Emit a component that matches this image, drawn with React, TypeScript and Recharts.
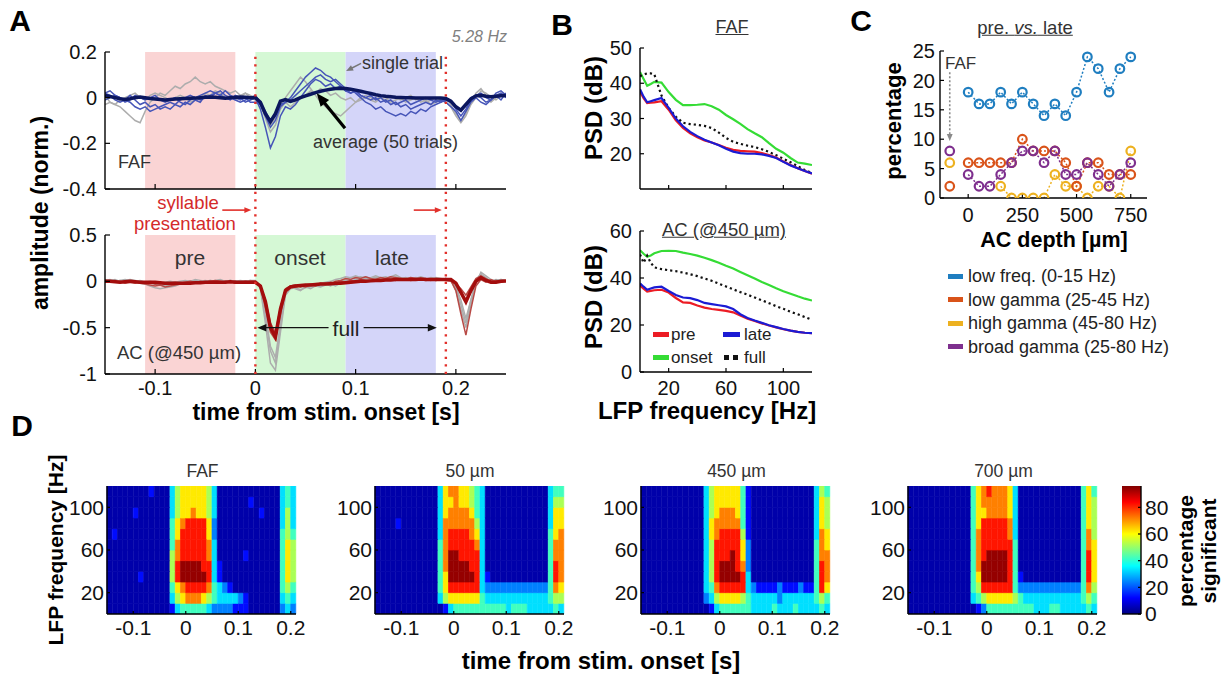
import React from 'react';
import { LineChart, ComposedChart, BarChart, Line, Bar, Cell, XAxis, YAxis, ReferenceArea, ReferenceLine } from 'recharts';

const FONT = '"Liberation Sans", Arial, Helvetica, sans-serif';

// ================= Panel A data =================
const timeA = [
  -0.15, -0.145, -0.14, -0.135, -0.13, -0.125, -0.12, -0.115, -0.11, -0.105,
  -0.1, -0.095, -0.09, -0.085, -0.08, -0.075, -0.07, -0.065, -0.06, -0.055,
  -0.05, -0.045, -0.04, -0.035, -0.03, -0.025, -0.02, -0.015, -0.01, -0.005,
  0, 0.005, 0.01, 0.015, 0.02, 0.025, 0.03, 0.035, 0.04, 0.045,
  0.05, 0.055, 0.06, 0.065, 0.07, 0.075, 0.08, 0.085, 0.09, 0.095,
  0.1, 0.105, 0.11, 0.115, 0.12, 0.125, 0.13, 0.135, 0.14, 0.145,
  0.15, 0.155, 0.16, 0.165, 0.17, 0.175, 0.18, 0.185, 0.19, 0.195,
  0.2, 0.205, 0.21, 0.215, 0.22, 0.225, 0.23, 0.235, 0.24, 0.245,
  0.25,
];
const fafAvg = [
  0.01, 0.005, 0, -0.005, -0.008, -0.005, 0, 0.003, 0, -0.004,
  -0.006, -0.008, -0.01, -0.008, -0.006, -0.005, -0.004, -0.003, -0.002, 0,
  0.002, 0.003, 0.002, 0, -0.002, 0, 0.002, 0.003, 0.002, 0,
  0, -0.02, -0.07, -0.105, -0.07, -0.015, -0.008, -0.016, -0.01, 0,
  0.008, 0.015, 0.022, 0.028, 0.033, 0.037, 0.04, 0.041, 0.04, 0.037,
  0.033, 0.028, 0.023, 0.018, 0.013, 0.009, 0.006, 0.004, 0.002, 0.001,
  0, 0, -0.001, -0.001, -0.002, -0.002, -0.002, -0.002, -0.004, -0.015,
  -0.04, -0.055, -0.03, -0.005, 0.008, 0.01, 0.006, 0.004, 0.006, 0.008,
  0.01,
];
const fafB1 = [
  0.02, 0.01, -0.01, -0.02, -0.01, 0.01, -0.01, -0.03, -0.02, -0.04,
  -0.03, -0.05, -0.04, -0.05, -0.03, -0.04, -0.02, -0.03, -0.01, -0.02,
  0.01, 0, 0.02, 0.01, 0, -0.01, 0.01, 0, -0.02, -0.01,
  0, -0.05, -0.13, -0.22, -0.17, -0.08, -0.04, -0.05, -0.03, 0,
  0.03, 0.06, 0.08, 0.07, 0.05, 0.06, 0.04, 0.05, 0.03, 0.02,
  0.03, 0.01, 0, 0.01, -0.01, 0, -0.02, -0.01, -0.03, -0.02,
  -0.01, -0.03, -0.02, -0.01, 0, -0.01, -0.02, -0.01, -0.02, -0.04,
  -0.06, -0.1, -0.06, -0.02, 0, -0.02, -0.03, -0.01, 0.01, -0.01,
  0.02,
];
const fafB2 = [
  -0.01, 0, 0.01, 0, -0.02, -0.01, 0.01, 0, -0.01, 0,
  0.01, -0.01, -0.02, -0.01, 0, -0.02, -0.03, -0.01, 0, 0.01,
  0.02, 0.03, 0.02, 0.01, 0.03, 0.01, 0, -0.01, 0, -0.02,
  -0.02, -0.03, -0.08, -0.13, -0.1, -0.04, -0.02, 0, 0.03, 0.06,
  0.09, 0.11, 0.13, 0.12, 0.1, 0.09, 0.07, 0.05, 0.03, 0.04,
  0.02, 0, -0.02, -0.03, -0.05, -0.04, -0.06, -0.07, -0.08, -0.07,
  -0.08, -0.06, -0.07, -0.05, -0.06, -0.04, -0.03, -0.02, -0.01, -0.02,
  -0.04, -0.06, -0.03, 0, 0.01, 0, -0.02, -0.01, 0.01, 0.02,
  0,
];
const fafB3 = [
  0.02, 0.03, 0.01, 0, -0.01, -0.02, -0.04, -0.05, -0.04, -0.06,
  -0.05, -0.04, -0.03, -0.02, -0.03, -0.01, 0, 0.01, 0, -0.01,
  0, 0.01, 0.02, 0.03, 0.01, 0, -0.01, -0.02, -0.01, 0,
  0.01, -0.02, -0.06, -0.1, -0.08, -0.03, -0.02, -0.01, 0.01, 0.03,
  0.05, 0.07, 0.09, 0.1, 0.08, 0.07, 0.08, 0.06, 0.04, 0.02,
  0.03, 0.01, 0, -0.01, 0, -0.02, -0.01, -0.03, -0.02, -0.04,
  -0.03, -0.05, -0.04, -0.03, -0.02, -0.03, -0.01, -0.02, 0, -0.02,
  -0.05, -0.08, -0.05, -0.01, 0.01, 0.02, 0, -0.01, 0.02, 0.03,
  0.01,
];
const fafG1 = [
  -0.03, -0.02, -0.03, -0.04, -0.06, -0.08, -0.1, -0.11, -0.06, -0.02,
  0, 0.02, 0.01, 0.03, 0.05, 0.04, 0.06, 0.07, 0.09, 0.07,
  0.06, 0.07, 0.05, 0.04, 0.03, 0.02, 0.03, 0.01, 0.02, 0,
  -0.01, -0.03, -0.08, -0.12, -0.09, -0.03, 0, 0.03, 0.06, 0.09,
  0.07, 0.04, 0.01, -0.02, -0.04, -0.06, -0.07, -0.08, -0.06, -0.04,
  -0.02, 0, 0.01, 0, -0.01, 0.01, 0, -0.02, -0.01, 0,
  -0.02, -0.01, 0, -0.02, -0.01, -0.03, -0.02, -0.01, 0, -0.03,
  -0.07, -0.1, -0.07, -0.02, 0.02, 0.04, 0.01, -0.02, 0, 0.02,
  0.01,
];
const fafG2 = [
  0.01, -0.02, -0.03, -0.01, 0, 0.01, 0.02, 0, -0.01, 0.01,
  0.02, 0.01, 0, -0.01, 0, 0.01, 0, -0.02, -0.01, 0,
  0.02, 0.01, 0.03, 0.02, 0, 0.01, -0.01, 0, 0.02, 0.01,
  0, -0.03, -0.09, -0.15, -0.12, -0.05, -0.02, -0.04, -0.02, 0,
  0.01, 0.03, 0.02, 0.04, 0.03, 0.01, 0.02, 0, -0.01, 0,
  -0.02, -0.01, 0, -0.01, -0.02, 0, -0.01, 0.01, 0, -0.01,
  0, 0.01, -0.01, 0, -0.02, -0.01, 0, -0.01, -0.02, -0.04,
  -0.08, -0.11, -0.08, -0.03, 0, 0.03, 0.02, 0, -0.01, 0.01,
  0.02,
];
const acAvg = [
  0, 0, -0.005, -0.01, -0.005, 0, -0.005, -0.01, -0.01, -0.01,
  -0.01, -0.015, -0.02, -0.02, -0.02, -0.02, -0.02, -0.02, -0.015, -0.015,
  -0.01, -0.01, -0.01, -0.01, -0.01, -0.005, -0.01, -0.01, -0.01, -0.01,
  -0.01, -0.05, -0.22, -0.5, -0.6, -0.3, -0.1, -0.06, -0.05, -0.045,
  -0.04, -0.04, -0.035, -0.03, -0.03, -0.025, -0.02, -0.02, -0.015, -0.01,
  -0.005, 0, 0, 0.005, 0.01, 0.01, 0.015, 0.015, 0.02, 0.02,
  0.02, 0.02, 0.02, 0.025, 0.02, 0.02, 0.02, 0.02, 0.02, 0.02,
  -0.02, -0.12, -0.22, -0.1, 0, 0.04, 0.01, -0.01, -0.01, 0,
  0.005,
];
const acR1 = [
  0.01, 0, -0.01, 0, -0.02, -0.01, 0, -0.02, -0.03, -0.04,
  -0.05, -0.04, -0.06, -0.05, -0.04, -0.03, -0.02, -0.01, -0.02, 0,
  -0.01, 0, -0.01, -0.02, 0, -0.01, 0, -0.02, -0.01, 0,
  0, -0.06, -0.28, -0.55, -0.63, -0.35, -0.12, -0.07, -0.06, -0.05,
  -0.06, -0.04, -0.05, -0.03, -0.02, -0.03, 0, 0.01, 0.03, 0.02,
  0.04, 0.03, 0.05, 0.03, 0.02, 0.04, 0.03, 0.05, 0.04, 0.03,
  0.02, 0.04, 0.03, 0.02, 0.03, 0.01, 0.03, 0.02, 0.03, 0.01,
  -0.1, -0.35, -0.58, -0.3, -0.05, 0.02, -0.01, 0.02, 0, -0.01,
  0.01,
];
const acR2 = [
  -0.01, 0, 0.01, -0.01, 0, -0.01, -0.02, -0.01, -0.02, -0.01,
  -0.03, -0.02, -0.03, -0.02, -0.01, -0.02, -0.01, 0, -0.01, -0.02,
  -0.01, 0, 0.01, 0, -0.01, 0, -0.02, -0.01, 0, -0.01,
  -0.02, -0.04, -0.2, -0.45, -0.55, -0.28, -0.08, -0.05, -0.04, -0.06,
  -0.04, -0.03, -0.04, -0.02, -0.03, -0.01, -0.02, 0, -0.01, 0.01,
  0, 0.02, 0.01, 0, 0.02, 0.01, 0.03, 0.02, 0.01, 0.03,
  0.02, 0.01, 0.02, 0.03, 0.01, 0.02, 0.01, 0.02, 0.01, 0,
  -0.03, -0.08, -0.15, -0.06, 0.03, 0.06, 0.03, 0, 0.01, 0,
  0.01,
];
const acG1 = [
  0.01, 0.02, 0, 0.01, 0.02, 0.01, 0, 0.01, -0.01, 0,
  -0.01, -0.02, -0.01, 0, -0.01, 0, 0.01, 0, 0.02, 0.01,
  0, 0.01, 0, -0.01, 0, 0.01, 0, -0.01, 0, 0.01,
  0, -0.08, -0.45, -0.88, -0.96, -0.55, -0.15, -0.08, -0.07, -0.09,
  -0.07, -0.06, -0.04, -0.05, -0.03, -0.05, -0.02, 0, 0.02, 0.04,
  0.03, 0.05, 0.03, 0.04, 0.06, 0.04, 0.05, 0.03, 0.04, 0.02,
  0.03, 0.04, 0.02, 0.03, 0.02, 0.04, 0.03, 0.02, 0.03, 0.01,
  -0.1, -0.3, -0.5, -0.25, 0.02, 0.08, 0.04, 0, 0.02, 0.01,
  0,
];
const acG2 = [
  0, -0.01, 0, 0.01, 0, -0.01, 0, -0.02, -0.03, -0.05,
  -0.07, -0.08, -0.07, -0.06, -0.05, -0.03, -0.02, -0.01, 0, -0.01,
  0, 0.01, 0, -0.01, 0, 0.01, 0, -0.01, 0, 0,
  0, -0.06, -0.38, -0.75, -0.88, -0.5, -0.12, -0.06, -0.08, -0.1,
  -0.06, -0.08, -0.05, -0.06, -0.04, -0.03, -0.05, -0.02, 0.01, 0,
  0.02, 0.01, 0.03, 0.02, 0.04, 0.03, 0.02, 0.04, 0.05, 0.03,
  0.04, 0.02, 0.03, 0.05, 0.03, 0.02, 0.04, 0.03, 0.02, 0,
  -0.06, -0.2, -0.4, -0.2, -0.02, 0.1, 0.06, 0.02, -0.01, 0.02,
  0.01,
];
const acG3 = [
  0.02, 0.01, 0.02, 0, 0.01, 0.02, 0.01, 0, -0.01, -0.02,
  -0.03, -0.04, -0.05, -0.04, -0.03, -0.02, -0.01, 0, 0.01, 0,
  0.01, 0, 0.01, 0.02, 0, 0.01, 0, 0.01, 0, 0.01,
  0.01, -0.05, -0.35, -0.7, -0.82, -0.45, -0.1, -0.05, -0.04, -0.06,
  -0.05, -0.03, -0.04, -0.02, -0.01, 0, 0.02, 0.03, 0.05, 0.04,
  0.06, 0.04, 0.05, 0.03, 0.04, 0.02, 0.03, 0.05, 0.07, 0.04,
  0.03, 0.02, 0.04, 0.03, 0.02, 0.03, 0.01, 0.02, 0.03, 0.02,
  -0.05, -0.25, -0.45, -0.2, 0, 0.06, 0.02, -0.01, 0.01, 0.02,
  0,
];
const ticksAx = [-0.1, 0, 0.1, 0.2];
const ticksATop = [-0.4, -0.2, 0, 0.2];
const ticksABot = [-1, -0.5, 0, 0.5];
const winPre = [-0.11, -0.02];
const winOnset = [0, 0.09];
const winLate = [0.09, 0.18];
const stimOnsets = [0, 0.19];

// ================= Panel B data =================
const freqB = [0, 2.5, 5, 7.5, 10, 15, 20, 25, 30, 35, 40, 45, 50, 55, 60, 65, 70, 75, 80, 85, 90, 95, 100, 105, 110, 115, 120];
const fafOnsetPSD = [43.2, 41.2, 39.3, 39.8, 40.4, 40.2, 37.5, 35.3, 33.8, 33.8, 33.9, 34.1, 33.5, 32.5, 31, 29.8, 28.5, 27, 25.8, 24.7, 23, 21.4, 20.3, 18.8, 17.5, 17.2, 16.8];
const fafFullPSD = [42, 42.5, 42.8, 42.8, 42.5, 36.5, 33, 30.5, 28.8, 28.4, 28.2, 27.9, 27.3, 26, 24.5, 23.4, 22.8, 22.3, 21.9, 21.3, 20.5, 19.6, 18.6, 17.6, 16.5, 15.4, 14.5];
const fafPrePSD = [37.6, 35.8, 34.4, 34.5, 34.6, 34.9, 32.5, 29.5, 27.3, 25.8, 24.7, 23.8, 23.2, 22.5, 21.7, 21.1, 20.8, 20.7, 20.6, 20.2, 19.6, 18.9, 17.8, 16.8, 15.9, 15.1, 14.3];
const fafLatePSD = [38.3, 36.2, 34.6, 34.9, 35.2, 35.8, 33, 30, 27.8, 26.2, 25, 24, 23.2, 22.4, 21.4, 20.6, 20.2, 20, 20, 19.8, 19.4, 18.8, 17.7, 16.7, 15.9, 15.1, 14.4];
const acOnsetPSD = [51.8, 50.3, 49, 49.6, 50.5, 51.5, 51.6, 51.5, 50.8, 50.2, 49.5, 48.6, 47.6, 46.5, 45.2, 44, 42.6, 41.2, 39.8, 38.3, 37, 35.6, 34.4, 33.3, 32.2, 31.2, 30.4];
const acFullPSD = [50, 46.5, 49.5, 46.5, 44.5, 43.8, 43.3, 42.9, 42.3, 41.6, 40.8, 39.8, 38.8, 37.6, 36.4, 35.2, 34, 32.9, 31.7, 30.5, 29.3, 28, 26.9, 25.6, 24.6, 23.4, 22.2];
const acPrePSD = [36.8, 35.5, 34.2, 34.5, 34.8, 35, 33.8, 31.5, 29.6, 29.4, 28.3, 27.4, 26.8, 26.4, 26, 25.4, 24, 22.7, 21.7, 20.7, 19.8, 19, 18.2, 17.6, 17.1, 16.7, 16.5];
const acLatePSD = [37.7, 36.3, 35, 35.5, 36, 36.3, 34.5, 32.8, 31.7, 31.4, 30.6, 29.4, 28.9, 28.4, 27.9, 26.8, 24.6, 23, 21.9, 20.9, 19.9, 19.1, 18.3, 17.6, 17.1, 16.7, 16.5];
const ticksBx = [20, 60, 100];

// ================= Panel C data =================
const depthC = [0, 50, 100, 150, 200, 250, 300, 350, 400, 450, 500, 550, 600, 650, 700, 750];
const lowFreqPct = [18, 16, 16, 18, 16, 18, 16, 14, 16, 14, 18, 24, 22, 18, 22, 24];
const lowGammaPct = [6, 6, 6, 6, 6, 10, 8, 8, 8, 6, 2, 6, 6, 4, 4, 4];
const highGammaPct = [null, null, null, 2, 0, 0, 0, 0, 4, 2, 2, 0, 2, 2, 0, 8];
const broadGammaPct = [4, 2, 2, 4, 6, 8, 8, 6, 8, 4, 4, 6, 4, 2, 4, 6];
const fafDepth = -85;
const fafLowGamma = 2;
const fafHighGamma = 6;
const fafBroadGamma = 8;

// ================= Panel D data (percentage significant, digit code, top row = 110-120 Hz) =================
const hmTimeEdges = [
  -0.15, -0.14, -0.13, -0.12, -0.11, -0.1, -0.09, -0.08, -0.07, -0.06,
  -0.05, -0.04, -0.03, -0.02, -0.01, 0, 0.01, 0.02, 0.03, 0.04,
  0.05, 0.06, 0.07, 0.08, 0.09, 0.1, 0.11, 0.12, 0.13, 0.14,
  0.15, 0.16, 0.17, 0.18, 0.19, 0.2, 0.21,
];
const hmFreqEdges = [0, 10, 20, 30, 40, 50, 60, 70, 80, 90, 100, 110, 120];
const hmLevels = [4, 13, 24, 33, 42, 52, 62, 72, 82, 94];
const hmFAF = [
  '000000001000 356666653000 000000000343',
  '000000000000 356666653000 000100000343',
  '000001000000 356676653000 000001000353',
  '000000000000 467888862000 000000000353',
  '010000000000 468888862000 000000000454',
  '000000000000 478888873000 000000000465',
  '000000000000 578888873000 001000000465',
  '000000000000 589999883100 000000000465',
  '000000100000 589999983100 000000000465',
  '000000000000 467888874321 000000000454',
  '000000000000 356777654333 321000000343',
  '000000000000 134444432222 111000000232',
];
const hm50 = [
  '000000000000 367766543000 000000000344',
  '000000000000 366766543000 000000000355',
  '000000000000 367777643000 000000000366',
  '000010000000 377777753000 000000000366',
  '000000000000 378888763000 000000000467',
  '000000000000 478888873000 000000000477',
  '000000000000 479988883000 000000000477',
  '000000000000 479999883000 000000000487',
  '000000000000 469999983100 000000000487',
  '000000000000 468888883222 222222222476',
  '000000000000 356666664333 333333333455',
  '000000000000 013444444444 434443333343',
];
const hm450 = [
  '000000000000 356666641000 000000000354',
  '000000000000 356666641000 000000000365',
  '000000000000 356777641000 000000000365',
  '000000000000 367777741000 000000000365',
  '000000000000 367888851000 000000000376',
  '000000000000 358888862000 000000000476',
  '000000000000 358889862000 000000000477',
  '000000000000 358999872000 000000000487',
  '000000000000 358999983000 000000000487',
  '000000000000 347888883211 112111211486',
  '000000000000 235666654333 332333333454',
  '000000000000 013444444333 343334333343',
];
const hm700 = [
  '000000000000 467877763000 000000000464',
  '000000000000 467777763000 000000000465',
  '000000000000 466777763000 000000000465',
  '000000000000 468888873000 000000000465',
  '000000000000 478888873000 000000000475',
  '000000000000 478888884000 000000000476',
  '000000000000 478999984000 000000000486',
  '000000000000 479999984000 000000000486',
  '000000000000 469999984100 000000000486',
  '000000000000 458888884222 222222222475',
  '000000000000 345666665433 333333333454',
  '000000000000 012444444444 333443333343',
];
const hmTitles = ['FAF', '50 \u00b5m', '450 \u00b5m', '700 \u00b5m'];
const cbMax = 96;
const cbTicks = [0, 20, 40, 60, 80];

// ================= helpers =================
const tableA = timeA.map((t, i) => ({
  t,
  fafAvg: fafAvg[i], fafB1: fafB1[i], fafB2: fafB2[i], fafB3: fafB3[i], fafG1: fafG1[i], fafG2: fafG2[i],
  acAvg: acAvg[i], acR1: acR1[i], acR2: acR2[i], acG1: acG1[i], acG2: acG2[i], acG3: acG3[i],
}));
const tableBfaf = freqB.map((f, i) => ({ f, pre: fafPrePSD[i], onset: fafOnsetPSD[i], late: fafLatePSD[i], full: fafFullPSD[i] }));
const tableBac = freqB.map((f, i) => ({ f, pre: acPrePSD[i], onset: acOnsetPSD[i], late: acLatePSD[i], full: acFullPSD[i] }));
const tableC = depthC.map((d, i) => ({ d, low: lowFreqPct[i], lg: lowGammaPct[i], hg: highGammaPct[i], bg: broadGammaPct[i] }));

const jet = (v: number) => {
  const x = Math.max(0, Math.min(1, v / cbMax));
  const c = (a: number) => Math.round(255 * Math.max(0, Math.min(1, a)));
  return `rgb(${c(1.5 - Math.abs(4 * x - 3))},${c(1.5 - Math.abs(4 * x - 2))},${c(1.5 - Math.abs(4 * x - 1))})`;
};
const decode = (rows: string[]) => rows.map((r) => r.replace(/\s/g, '').split('').map((ch) => hmLevels[Number(ch)]));

const AXL = { stroke: '#000', strokeWidth: 1.4 };
const TKL = { stroke: '#000', strokeWidth: 1.2 };
const tick = (size: number) => ({ fill: '#111', fontSize: size, fontFamily: FONT });
const blank = () => '';

const PINK = '#fad4d4';
const GREEN = '#d5f8d5';
const LAV = '#d4d5f9';
const RED_DOT = '#e2302b';

const makeArrow = (color: string, width: number, head: number, dash?: string) => (p: any) => {
  const { x1, y1, x2, y2 } = p;
  if (![x1, y1, x2, y2].every((v) => typeof v === 'number' && isFinite(v))) return <g />;
  const a = Math.atan2(y2 - y1, x2 - x1);
  const hw = head * 0.42;
  const bx = x2 - head * Math.cos(a);
  const by = y2 - head * Math.sin(a);
  const pts = `${x2},${y2} ${bx + hw * Math.sin(a)},${by - hw * Math.cos(a)} ${bx - hw * Math.sin(a)},${by + hw * Math.cos(a)}`;
  const ex = x2 - head * 0.7 * Math.cos(a);
  const ey = y2 - head * 0.7 * Math.sin(a);
  return (
    <g>
      <line x1={x1} y1={y1} x2={ex} y2={ey} stroke={color} strokeWidth={width} strokeDasharray={dash} />
      <polygon points={pts} fill={color} />
    </g>
  );
};

function T({ x, y, children, size = 18, bold = false, italic = false, color = '#222', anchor = 'middle', rotate = false, underline = false }: any) {
  const tx = anchor === 'middle' ? '-50%' : anchor === 'end' ? '-100%' : '0';
  return (
    <div
      style={{
        position: 'absolute', left: x, top: y,
        transform: `translate(${tx}, -50%)${rotate ? ' rotate(-90deg)' : ''}`,
        fontSize: size, fontWeight: bold ? 700 : 400, fontStyle: italic ? 'italic' : 'normal',
        color, whiteSpace: 'nowrap', lineHeight: 1, textDecoration: underline ? 'underline' : 'none',
        fontFamily: FONT,
      }}
    >
      {children}
    </div>
  );
}

// ================= Panel A =================
const A_X = 105;
const A_W = 401;
const A_DOM = [-0.15, 0.25];

function ABox({ y, h, padB, yDomain, yTicks, showX, children }: any) {
  const padL = 60, padR = 12, padT = 14;
  return (
    <div style={{ position: 'absolute', left: A_X - padL, top: y - padT }}>
      <LineChart width={A_W + padL + padR} height={h + padT + padB} data={tableA} margin={{ top: padT, right: padR, bottom: 0, left: 0 }}>
        <XAxis dataKey="t" type="number" domain={A_DOM} allowDataOverflow ticks={ticksAx} interval={0} height={padB}
          tickSize={-5} tickMargin={12} tick={tick(20)} tickFormatter={showX ? undefined : blank} axisLine={AXL} tickLine={TKL} />
        <XAxis xAxisId="top" dataKey="t" orientation="top" type="number" domain={A_DOM} allowDataOverflow ticks={ticksAx} interval={0} height={0}
          tickSize={-5} tickFormatter={blank} axisLine={AXL} tickLine={TKL} />
        <YAxis type="number" domain={yDomain} allowDataOverflow ticks={yTicks} interval={0} width={padL}
          tickSize={-5} tickMargin={13} tick={tick(20)} axisLine={AXL} tickLine={TKL} />
        <YAxis yAxisId="right" orientation="right" type="number" domain={yDomain} allowDataOverflow ticks={yTicks} interval={0} width={0}
          tickSize={-5} tickFormatter={blank} axisLine={AXL} tickLine={TKL} />
        <ReferenceArea x1={winPre[0]} x2={winPre[1]} fill={PINK} fillOpacity={1} stroke="none" />
        <ReferenceArea x1={winOnset[0]} x2={winOnset[1]} fill={GREEN} fillOpacity={1} stroke="none" />
        <ReferenceArea x1={winLate[0]} x2={winLate[1]} fill={LAV} fillOpacity={1} stroke="none" />
        {children}
      </LineChart>
    </div>
  );
}

function PanelA() {
  const gray = '#adadad';
  const blue = '#4655b8';
  const redT = '#b84a46';
  return (
    <>
      <ABox y={52} h={137} padB={14} yDomain={[-0.4, 0.2]} yTicks={ticksATop} showX={false}>
        <Line dataKey="fafG1" stroke={gray} strokeWidth={1.5} dot={false} isAnimationActive={false} />
        <Line dataKey="fafG2" stroke={gray} strokeWidth={1.5} dot={false} isAnimationActive={false} />
        <Line dataKey="fafB1" stroke={blue} strokeWidth={1.5} dot={false} isAnimationActive={false} />
        <Line dataKey="fafB2" stroke={blue} strokeWidth={1.5} dot={false} isAnimationActive={false} />
        <Line dataKey="fafB3" stroke={blue} strokeWidth={1.5} dot={false} isAnimationActive={false} />
        <Line dataKey="fafAvg" stroke="#0b165e" strokeWidth={3.5} dot={false} isAnimationActive={false} />
        <ReferenceLine segment={[{ x: 0.1054, y: 0.15 }, { x: 0.0905, y: 0.117 }]} shape={makeArrow('#777', 1.5, 7)} />
        <ReferenceLine segment={[{ x: 0.0894, y: -0.134 }, { x: 0.0612, y: 0.019 }]} shape={makeArrow('#000', 3.2, 13)} />
      </ABox>
      <ABox y={235} h={139} padB={34} yDomain={[-1, 0.5]} yTicks={ticksABot} showX={true}>
        <Line dataKey="acG1" stroke={gray} strokeWidth={1.5} dot={false} isAnimationActive={false} />
        <Line dataKey="acG2" stroke={gray} strokeWidth={1.5} dot={false} isAnimationActive={false} />
        <Line dataKey="acG3" stroke={gray} strokeWidth={1.5} dot={false} isAnimationActive={false} />
        <Line dataKey="acR1" stroke={redT} strokeWidth={1.5} dot={false} isAnimationActive={false} />
        <Line dataKey="acR2" stroke={redT} strokeWidth={1.5} dot={false} isAnimationActive={false} />
        <Line dataKey="acAvg" stroke="#a30d0d" strokeWidth={3.5} dot={false} isAnimationActive={false} />
        <ReferenceLine segment={[{ x: 0.073, y: -0.5 }, { x: 0.002, y: -0.5 }]} shape={makeArrow('#111', 1.4, 9)} />
        <ReferenceLine segment={[{ x: 0.108, y: -0.5 }, { x: 0.181, y: -0.5 }]} shape={makeArrow('#111', 1.4, 9)} />
      </ABox>
      {/* overlay spanning both A plots: stimulus markers */}
      <div style={{ position: 'absolute', left: A_X, top: 52 }}>
        <LineChart width={A_W} height={322} data={tableA} margin={{ top: 0, right: 0, bottom: 0, left: 0 }}>
          <XAxis dataKey="t" type="number" domain={A_DOM} allowDataOverflow hide height={0} />
          <YAxis type="number" domain={[0, 1]} allowDataOverflow hide width={0} />
          {stimOnsets.map((s) => (
            <ReferenceLine key={s} x={s} stroke={RED_DOT} strokeWidth={2.4} strokeDasharray="2.2 5.3" />
          ))}
          <ReferenceLine segment={[{ x: -0.033, y: 0.509 }, { x: -0.004, y: 0.509 }]} shape={makeArrow(RED_DOT, 1.6, 7)} />
          <ReferenceLine segment={[{ x: 0.158, y: 0.509 }, { x: 0.186, y: 0.509 }]} shape={makeArrow(RED_DOT, 1.6, 7)} />
        </LineChart>
      </div>
      <T x={507} y={37} size={16} italic color="#808080" anchor="end">5.28 Hz</T>
      <T x={40} y={213} size={23} bold rotate color="#000">amplitude (norm.)</T>
      <T x={326} y={412} size={23} bold color="#000">time from stim. onset [s]</T>
      <T x={118} y={162} size={18} anchor="start" color="#333">FAF</T>
      <T x={362} y={63} size={18} anchor="start" color="#333">single trial</T>
      <T x={313} y={142} size={18} anchor="start" color="#333">average (50 trials)</T>
      <T x={188} y={203} size={18.5} color="#d42a2a">syllable</T>
      <T x={185} y={224} size={18.5} color="#d42a2a">presentation</T>
      <T x={190} y={257} size={21} color="#333">pre</T>
      <T x={300} y={257} size={21} color="#333">onset</T>
      <T x={392} y={257} size={21} color="#333">late</T>
      <T x={346} y={328} size={21} color="#222">full</T>
      <T x={117} y={353} size={18.5} anchor="start" color="#333">AC (@450 {'\u00b5'}m)</T>
    </>
  );
}

// ================= Panel B =================
const B_X = 640;
const B_W = 172;
const C_PRE = '#ec1c24';
const C_ONSET = '#35dc35';
const C_LATE = '#1b1bd4';
const C_FULL = '#111';

function BBox({ y, h, padB, data, yDomain, yTicks, showX }: any) {
  const padL = 50, padR = 12, padT = 14;
  return (
    <div style={{ position: 'absolute', left: B_X - padL, top: y - padT }}>
      <LineChart width={B_W + padL + padR} height={h + padT + padB} data={data} margin={{ top: padT, right: padR, bottom: 0, left: 0 }}>
        <XAxis dataKey="f" type="number" domain={[0, 120]} allowDataOverflow ticks={ticksBx} interval={0} height={padB}
          tickSize={-4} tickMargin={13} tick={tick(20)} tickFormatter={showX ? undefined : blank} axisLine={AXL} tickLine={TKL} />
        <YAxis type="number" domain={yDomain} allowDataOverflow ticks={yTicks} interval={0} width={padL}
          tickSize={-4} tickMargin={12} tick={tick(20)} axisLine={AXL} tickLine={TKL} />
        <Line dataKey="onset" stroke={C_ONSET} strokeWidth={2.2} dot={false} isAnimationActive={false} />
        <Line dataKey="full" stroke={C_FULL} strokeWidth={2.2} strokeDasharray="2.2 3" dot={false} isAnimationActive={false} />
        <Line dataKey="pre" stroke={C_PRE} strokeWidth={2.2} dot={false} isAnimationActive={false} />
        <Line dataKey="late" stroke={C_LATE} strokeWidth={2.2} dot={false} isAnimationActive={false} />
      </LineChart>
    </div>
  );
}

function Swatch({ x, y, w, color, dashed }: any) {
  if (dashed) {
    return (
      <>
        <div style={{ position: 'absolute', left: x, top: y - 2.5, width: 5, height: 5, background: color }} />
        <div style={{ position: 'absolute', left: x + 9, top: y - 2.5, width: 5, height: 5, background: color }} />
      </>
    );
  }
  return <div style={{ position: 'absolute', left: x, top: y - 2.5, width: w, height: 5, background: color }} />;
}

function PanelB() {
  return (
    <>
      <BBox y={48} h={141} padB={6} data={tableBfaf} yDomain={[10, 50]} yTicks={[20, 30, 40, 50]} showX={false} />
      <BBox y={231} h={141} padB={36} data={tableBac} yDomain={[0, 60]} yTicks={[0, 20, 40, 60]} showX={true} />
      <T x={732} y={27} size={18} color="#333" underline>FAF</T>
      <T x={724} y={230} size={18.5} color="#333" underline>AC (@450 {'\u00b5'}m)</T>
      <T x={594} y={108} size={24} bold rotate color="#000">PSD (dB)</T>
      <T x={594} y={297} size={24} bold rotate color="#000">PSD (dB)</T>
      <T x={707} y={411} size={24} bold color="#000">LFP frequency [Hz]</T>
      <Swatch x={653} y={334} w={16} color={C_PRE} />
      <T x={671} y={334} size={17} anchor="start" color="#222">pre</T>
      <Swatch x={723} y={334} w={17} color={C_LATE} />
      <T x={744} y={334} size={17} anchor="start" color="#222">late</T>
      <Swatch x={653} y={357} w={16} color={C_ONSET} />
      <T x={671} y={357} size={17} anchor="start" color="#222">onset</T>
      <Swatch x={724} y={357} color={C_FULL} dashed />
      <T x={744} y={357} size={17} anchor="start" color="#222">full</T>
    </>
  );
}

// ================= Panel C =================
const CC_LOW = '#1f7ec0';
const CC_LG = '#d95319';
const CC_HG = '#edb120';
const CC_BG = '#7e2f8e';

function PanelC() {
  const x = 940, y = 51, w = 207, h = 147;
  const padL = 48, padR = 10, padT = 14, padB = 34;
  const dot = (c: string) => ({ r: 4.3, stroke: c, strokeWidth: 2.2, fill: 'none', strokeDasharray: 'none' });
  const ln = (key: string, c: string) => (
    <Line key={key} dataKey={key} stroke={c} strokeWidth={1.5} strokeDasharray="2 2" dot={dot(c)} isAnimationActive={false} />
  );
  return (
    <>
      <div style={{ position: 'absolute', left: x - padL, top: y - padT }}>
        <ComposedChart width={w + padL + padR} height={h + padT + padB} data={tableC} margin={{ top: padT, right: padR, bottom: 0, left: 0 }}>
          <XAxis dataKey="d" type="number" domain={[-130, 825]} allowDataOverflow ticks={[0, 250, 500, 750]} interval={0} height={padB}
            tickSize={-4} tickMargin={14} tick={tick(20)} axisLine={AXL} tickLine={TKL} />
          <YAxis type="number" domain={[0, 25]} allowDataOverflow ticks={[0, 5, 10, 15, 20, 25]} interval={0} width={padL}
            tickSize={-4} tickMargin={9} tick={tick(20)} axisLine={AXL} tickLine={TKL} />
          {ln('low', CC_LOW)}
          {ln('hg', CC_HG)}
          {ln('lg', CC_LG)}
          {ln('bg', CC_BG)}
          <Line data={[{ d: fafDepth, v: fafLowGamma }]} dataKey="v" stroke={CC_LG} dot={dot(CC_LG)} isAnimationActive={false} />
          <Line data={[{ d: fafDepth, v: fafHighGamma }]} dataKey="v" stroke={CC_HG} dot={dot(CC_HG)} isAnimationActive={false} />
          <Line data={[{ d: fafDepth, v: fafBroadGamma }]} dataKey="v" stroke={CC_BG} dot={dot(CC_BG)} isAnimationActive={false} />
          <ReferenceLine segment={[{ x: fafDepth, y: 21.4 }, { x: fafDepth, y: 9.7 }]} shape={makeArrow('#8a8a8a', 1.6, 7, '2 2')} />
        </ComposedChart>
      </div>
      <T x={1025} y={28} size={18.5} color="#333" underline>pre. <i>vs.</i> late</T>
      <T x={894} y={121} size={22} bold rotate color="#000">percentage</T>
      <T x={1054} y={241} size={21.5} bold color="#000">AC depth [{'\u00b5'}m]</T>
      <T x={945} y={63} size={17} anchor="start" color="#333">FAF</T>
      {[
        ['low freq. (0-15 Hz)', CC_LOW, 276],
        ['low gamma (25-45 Hz)', CC_LG, 299.5],
        ['high gamma (45-80 Hz)', CC_HG, 323],
        ['broad gamma (25-80 Hz)', CC_BG, 346.5],
      ].map(([label, c, yy]: any) => (
        <React.Fragment key={label}>
          <Swatch x={948} y={yy} w={15} color={c} />
          <T x={968} y={yy} size={18} anchor="start" color="#222">{label}</T>
        </React.Fragment>
      ))}
    </>
  );
}

// ================= Panel D =================
const HM_Y = 486;
const HM_H = 128;
const HM_W = 189;
const hmLefts = [107, 374.5, 641, 908];
const hmSets = [hmFAF, hm50, hm450, hm700];

function Heatmap({ x, rows }: any) {
  const grid = decode(rows);
  const nR = grid.length;
  const data = hmTimeEdges.slice(0, -1).map((t0, k) => {
    const o: any = { col: k, t0 };
    for (let r = 0; r < nR; r++) o['r' + r] = hmFreqEdges[r + 1] - hmFreqEdges[r];
    return o;
  });
  const padL = 42, padR = 16, padT = 4, padB = 34;
  const dom = [hmTimeEdges[0], hmTimeEdges[hmTimeEdges.length - 1]];
  const fdom = [hmFreqEdges[0], hmFreqEdges[hmFreqEdges.length - 1]];
  return (
    <div style={{ position: 'absolute', left: x - padL, top: HM_Y - padT }}>
      <ComposedChart width={HM_W + padL + padR} height={HM_H + padT + padB} data={data} margin={{ top: padT, right: padR, bottom: 0, left: 0 }}
        barCategoryGap={0} barGap={0}>
        <XAxis xAxisId="cat" dataKey="col" type="category" hide height={0} />
        <XAxis xAxisId="num" dataKey="t0" type="number" domain={dom} allowDataOverflow ticks={ticksAx} interval={0} height={padB}
          tickSize={-3} tickMargin={9} tick={tick(21)} axisLine={AXL} tickLine={TKL} />
        <XAxis xAxisId="top" dataKey="t0" orientation="top" type="number" domain={dom} allowDataOverflow ticks={ticksAx} interval={0} height={0}
          tickSize={-3} tickFormatter={blank} axisLine={AXL} tickLine={TKL} />
        <YAxis yAxisId="l" type="number" domain={fdom} allowDataOverflow ticks={[20, 60, 100]} interval={0} width={padL}
          tickSize={-3} tickMargin={6} tick={tick(21)} axisLine={AXL} tickLine={TKL} />
        <YAxis yAxisId="r" orientation="right" type="number" domain={fdom} allowDataOverflow ticks={[20, 60, 100]} interval={0} width={0}
          tickSize={-3} tickFormatter={blank} axisLine={AXL} tickLine={TKL} />
        {grid.map((_, r) => (
          <Bar key={r} dataKey={'r' + r} stackId="s" xAxisId="cat" yAxisId="l" isAnimationActive={false}>
            {data.map((d: any) => {
              const c = jet(grid[nR - 1 - r][d.col]);
              return <Cell key={d.col} fill={c} stroke={c} strokeWidth={0.7} />;
            })}
          </Bar>
        ))}
      </ComposedChart>
    </div>
  );
}

function Colorbar() {
  const x = 1122, w = 19;
  const padL = 2, padR = 40, padT = 10, padB = 10;
  return (
    <div style={{ position: 'absolute', left: x - padL, top: HM_Y - padT }}>
      <BarChart width={w + padL + padR} height={HM_H + padT + padB} data={[{ c: 'cb', v: cbMax, u: 0 }]} margin={{ top: padT, right: 0, bottom: 0, left: padL }}
        barCategoryGap={0} barGap={0}>
        <XAxis xAxisId="cat" dataKey="c" type="category" hide height={0} />
        <XAxis xAxisId="b" dataKey="u" type="number" domain={[0, 1]} allowDataOverflow height={padB} tick={false} tickLine={false} axisLine={AXL} />
        <XAxis xAxisId="t" dataKey="u" orientation="top" type="number" domain={[0, 1]} allowDataOverflow height={0} tick={false} tickLine={false} axisLine={AXL} />
        <YAxis yAxisId="l" type="number" domain={[0, cbMax]} allowDataOverflow width={0} tick={false} tickLine={false} axisLine={AXL} />
        <YAxis yAxisId="r" orientation="right" type="number" domain={[0, cbMax]} allowDataOverflow ticks={cbTicks} interval={0} width={padR}
          tickSize={-3} tickMargin={7} tick={tick(21)} axisLine={AXL} tickLine={TKL} />
        <Bar dataKey="v" xAxisId="cat" yAxisId="l" fill="url(#jetGrad)" isAnimationActive={false} />
      </BarChart>
    </div>
  );
}

function PanelD() {
  return (
    <>
      {hmSets.map((rows, i) => (
        <Heatmap key={i} x={hmLefts[i]} rows={rows} />
      ))}
      {hmTitles.map((t, i) => (
        <T key={t} x={hmLefts[i] + HM_W / 2 + 1} y={472} size={17.5} color="#333">{t}</T>
      ))}
      <Colorbar />
      <T x={55} y={550} size={21} bold rotate color="#000">LFP frequency [Hz]</T>
      <T x={601} y={661} size={24} bold color="#000">time from stim. onset [s]</T>
      <T x={1185} y={551} size={21} bold rotate color="#000">percentage</T>
      <T x={1208} y={551} size={21} bold rotate color="#000">significant</T>
    </>
  );
}

export default function App() {
  return (
    <div style={{ position: 'absolute', left: 0, top: 0, width: 1222, height: 677, background: '#fff', overflow: 'hidden', fontFamily: FONT }}>
      <svg width={0} height={0} style={{ position: 'absolute' }}>
        <defs>
          <linearGradient id="jetGrad" x1="0" y1="1" x2="0" y2="0">
            <stop offset="0" stopColor="#000080" />
            <stop offset="0.125" stopColor="#0000ff" />
            <stop offset="0.375" stopColor="#00ffff" />
            <stop offset="0.625" stopColor="#ffff00" />
            <stop offset="0.875" stopColor="#ff0000" />
            <stop offset="1" stopColor="#800000" />
          </linearGradient>
        </defs>
      </svg>
      <PanelA />
      <PanelB />
      <PanelC />
      <PanelD />
      <T x={20} y={21} size={30} bold color="#000">A</T>
      <T x={562} y={25} size={30} bold color="#000">B</T>
      <T x={861} y={21} size={30} bold color="#000">C</T>
      <T x={22} y={426} size={30} bold color="#000">D</T>
    </div>
  );
}
